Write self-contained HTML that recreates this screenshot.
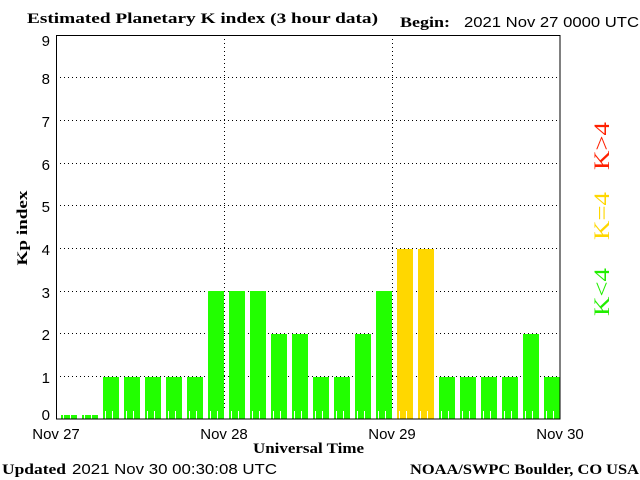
<!DOCTYPE html>
<html><head><style>
html,body{margin:0;padding:0;background:#fff;}
svg{display:block;}
.s{font-family:"Liberation Sans",sans-serif;font-size:15px;fill:#000;}
.b{font-family:"Liberation Serif",serif;font-weight:bold;font-size:15px;fill:#000;}
</style></head><body>
<svg width="640" height="480" xmlns="http://www.w3.org/2000/svg">
<text class="b" x="27" y="23" textLength="351" lengthAdjust="spacingAndGlyphs">Estimated Planetary K index (3 hour data)</text>
<text class="b" x="400" y="27" textLength="50" lengthAdjust="spacingAndGlyphs">Begin:</text>
<text class="s" x="464" y="27" textLength="175" lengthAdjust="spacingAndGlyphs">2021 Nov 27 0000 UTC</text>
<g stroke="#000" stroke-width="1" stroke-dasharray="1,3">
<line x1="56" x2="560" y1="77.5" y2="77.5"/><line x1="56" x2="560" y1="120.5" y2="120.5"/>
<line x1="56" x2="560" y1="163.5" y2="163.5"/><line x1="56" x2="560" y1="205.5" y2="205.5"/>
<line x1="56" x2="560" y1="248.5" y2="248.5"/><line x1="56" x2="560" y1="291.5" y2="291.5"/>
<line x1="56" x2="560" y1="333.5" y2="333.5"/><line x1="56" x2="560" y1="376.5" y2="376.5"/>
<line x1="224.5" x2="224.5" y1="35" y2="419"/><line x1="392.5" x2="392.5" y1="35" y2="419"/>
</g>
<g fill="#22ff00">
<rect x="61" y="415" width="16" height="4"/>
<rect x="82" y="415" width="16" height="4"/>
<rect x="103" y="377" width="16" height="42"/>
<rect x="124" y="377" width="16" height="42"/>
<rect x="145" y="377" width="16" height="42"/>
<rect x="166" y="377" width="16" height="42"/>
<rect x="187" y="377" width="16" height="42"/>
<rect x="208" y="291" width="16" height="128"/>
<rect x="229" y="291" width="16" height="128"/>
<rect x="250" y="291" width="16" height="128"/>
<rect x="271" y="334" width="16" height="85"/>
<rect x="292" y="334" width="16" height="85"/>
<rect x="313" y="377" width="16" height="42"/>
<rect x="334" y="377" width="16" height="42"/>
<rect x="355" y="334" width="16" height="85"/>
<rect x="376" y="291" width="16" height="128"/>
<rect x="439" y="377" width="16" height="42"/>
<rect x="460" y="377" width="16" height="42"/>
<rect x="481" y="377" width="16" height="42"/>
<rect x="502" y="377" width="16" height="42"/>
<rect x="523" y="334" width="16" height="85"/>
<rect x="544" y="377" width="16" height="42"/>
</g>
<g fill="#ffd700">
<rect x="397" y="249" width="16" height="170"/>
<rect x="418" y="249" width="16" height="170"/>
</g>
<line x1="63" x2="560" y1="415" y2="415" stroke="#fff" stroke-width="8" stroke-dasharray="1,6"/>
<rect x="56.5" y="35.5" width="503.5" height="383.5" fill="none" stroke="#000"/>
<g class="s" text-anchor="end">
<text x="50" y="46">9</text><text x="50" y="84">8</text><text x="50" y="127">7</text>
<text x="50" y="170">6</text><text x="50" y="212">5</text><text x="50" y="255">4</text>
<text x="50" y="298">3</text><text x="50" y="340">2</text><text x="50" y="383">1</text>
<text x="50" y="420">0</text>
</g>
<g class="s" text-anchor="middle">
<text x="56" y="439">Nov 27</text><text x="224" y="439">Nov 28</text>
<text x="392" y="439">Nov 29</text><text x="560" y="439">Nov 30</text>
</g>
<text class="b" x="253" y="453" textLength="111" lengthAdjust="spacingAndGlyphs">Universal Time</text>
<text class="b" transform="translate(27,228) rotate(-90)" text-anchor="middle" textLength="75" lengthAdjust="spacingAndGlyphs">Kp index</text>
<g font-family="Liberation Serif,serif" font-size="22" text-anchor="middle">
<text transform="translate(609,146) rotate(-90)" fill="#ff2000" textLength="48" lengthAdjust="spacingAndGlyphs">K&gt;4</text>
<text transform="translate(609,216) rotate(-90)" fill="#ffd700" textLength="48" lengthAdjust="spacingAndGlyphs">K=4</text>
<text transform="translate(609,292) rotate(-90)" fill="#22ee00" textLength="48" lengthAdjust="spacingAndGlyphs">K&lt;4</text>
</g>
<text class="b" x="2" y="474" textLength="64" lengthAdjust="spacingAndGlyphs">Updated</text>
<text class="s" x="72" y="474" textLength="205" lengthAdjust="spacingAndGlyphs">2021 Nov 30 00:30:08 UTC</text>
<text class="b" x="410" y="474" textLength="229" lengthAdjust="spacingAndGlyphs">NOAA/SWPC Boulder, CO USA</text>
</svg>
</body></html>
